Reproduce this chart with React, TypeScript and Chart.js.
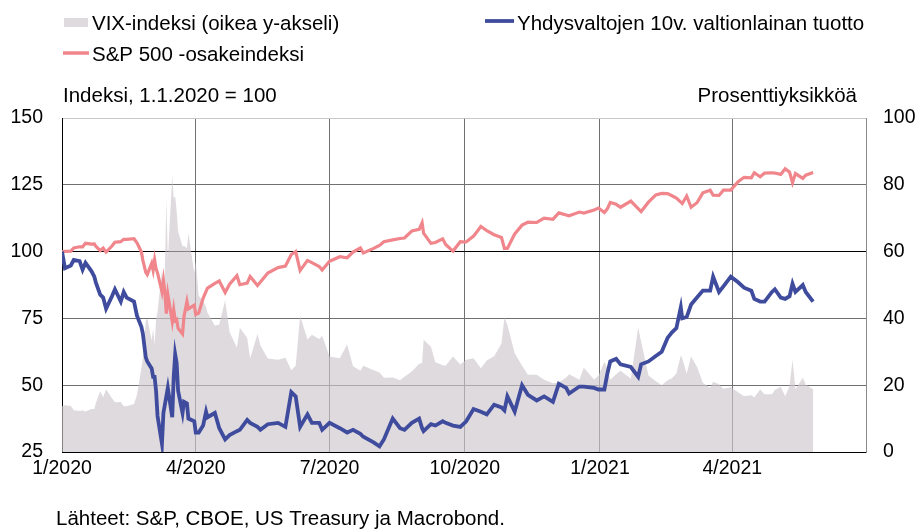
import React, { useEffect, useRef } from "react";
import { Chart, registerables } from "chart.js";

Chart.register(...registerables);

// ---- data (index 1.1.2020 = 100 for S&P and 10y yield; VIX in points, right axis)
const dates = [
  "2020-01-01","2020-01-03","2020-01-07","2020-01-09","2020-01-13","2020-01-15","2020-01-17","2020-01-21","2020-01-23","2020-01-24",
  "2020-01-27","2020-01-29","2020-01-31","2020-02-04","2020-02-06","2020-02-10","2020-02-12","2020-02-14","2020-02-19","2020-02-21",
  "2020-02-24","2020-02-25","2020-02-27","2020-02-28","2020-03-02","2020-03-03","2020-03-04","2020-03-05","2020-03-06","2020-03-09",
  "2020-03-10","2020-03-11","2020-03-12","2020-03-13","2020-03-16","2020-03-17","2020-03-18","2020-03-19","2020-03-20","2020-03-23",
  "2020-03-24","2020-03-26","2020-03-27","2020-03-31","2020-04-01","2020-04-03","2020-04-06","2020-04-08","2020-04-09","2020-04-14",
  "2020-04-17","2020-04-21","2020-04-24","2020-04-29","2020-05-01","2020-05-06","2020-05-08","2020-05-13","2020-05-15","2020-05-20",
  "2020-05-27","2020-06-01","2020-06-05","2020-06-08","2020-06-11","2020-06-16","2020-06-19","2020-06-24","2020-06-26","2020-07-01",
  "2020-07-08","2020-07-13","2020-07-17","2020-07-22","2020-07-24","2020-07-31","2020-08-04","2020-08-07","2020-08-13","2020-08-18",
  "2020-08-21","2020-08-26","2020-08-31","2020-09-02","2020-09-03","2020-09-08","2020-09-11","2020-09-16","2020-09-18","2020-09-23",
  "2020-09-28","2020-10-02","2020-10-07","2020-10-12","2020-10-16","2020-10-21","2020-10-26","2020-10-28","2020-10-30","2020-11-04",
  "2020-11-09","2020-11-13","2020-11-19","2020-11-24","2020-11-30","2020-12-04","2020-12-09","2020-12-11","2020-12-18","2020-12-21",
  "2020-12-28","2020-12-31","2021-01-04","2021-01-06","2021-01-08","2021-01-12","2021-01-15","2021-01-22","2021-01-27","2021-01-29",
  "2021-02-03","2021-02-08","2021-02-12","2021-02-16","2021-02-19","2021-02-22","2021-02-25","2021-02-26","2021-03-01","2021-03-04",
  "2021-03-08","2021-03-12","2021-03-17","2021-03-19","2021-03-23","2021-03-26","2021-03-31","2021-04-05","2021-04-09","2021-04-14",
  "2021-04-16","2021-04-20","2021-04-23","2021-04-28","2021-04-30","2021-05-04","2021-05-07","2021-05-10","2021-05-12","2021-05-14",
  "2021-05-19","2021-05-21","2021-05-26",
];

const sp500 = [
  100.0,100.1,100.2,101.4,101.8,101.8,103.1,102.8,102.9,102.0,
  100.4,101.3,99.8,102.1,103.5,103.7,104.6,104.6,104.8,103.3,
  99.9,96.8,92.2,91.4,95.6,93.0,96.9,93.6,92.0,85.0,
  89.2,84.8,76.8,83.9,73.9,78.3,74.2,74.6,71.3,69.2,
  75.7,81.4,78.6,80.0,76.5,77.0,82.5,85.1,86.3,88.1,
  89.0,84.7,87.8,91.0,87.6,88.2,90.7,87.3,88.6,92.0,
  94.0,94.6,98.9,100.0,92.9,96.7,95.9,94.4,93.1,96.4,
  98.1,97.7,99.8,101.4,99.5,101.2,102.3,103.7,104.4,104.9,
  105.1,107.7,108.3,110.8,106.9,103.1,103.4,104.8,102.7,100.2,
  103.7,103.6,105.8,109.4,107.8,106.3,105.3,101.2,101.2,106.6,
  109.9,111.0,110.9,112.5,112.1,114.5,113.7,113.4,114.8,114.4,
  115.6,116.3,114.6,116.0,118.4,117.7,116.6,118.9,116.1,115.0,
  118.5,121.2,121.8,121.7,120.9,120.0,118.5,118.0,120.8,116.6,
  118.3,122.0,123.0,121.1,121.0,123.0,123.0,126.2,127.8,127.6,
  129.5,128.0,129.4,129.5,129.4,128.9,131.0,129.7,125.8,129.2,
  127.4,128.6,129.6,
];

const us10y = [
  100.0,93.8,94.8,96.9,96.4,93.2,95.8,92.7,90.6,88.5,
  83.9,82.8,78.6,83.3,85.9,81.3,84.9,82.8,81.3,76.0,
  71.9,69.3,60.4,58.9,56.3,53.1,53.1,47.9,38.5,28.1,
  39.6,42.7,45.8,49.0,38.0,53.1,61.5,58.3,47.9,39.6,
  43.8,43.2,37.5,36.5,32.3,32.3,34.9,40.1,38.0,39.6,
  33.9,29.7,31.3,32.8,33.3,37.0,35.9,34.4,33.3,35.4,
  35.9,34.4,47.4,45.8,34.4,39.1,35.9,35.9,33.3,35.9,
  33.9,32.3,33.3,31.8,30.7,28.6,27.1,29.7,37.5,33.9,
  33.3,35.9,37.5,33.9,32.8,35.4,34.9,36.5,35.9,34.9,
  34.4,36.5,41.1,40.1,39.1,42.7,41.7,40.6,45.8,40.1,
  50.0,46.4,44.3,45.8,43.8,50.5,49.0,46.9,49.5,49.5,
  49.0,48.4,48.4,54.2,58.9,59.9,57.8,56.8,53.1,57.8,
  58.9,60.9,62.5,67.7,69.8,71.4,79.2,75.0,75.5,80.2,
  82.8,85.4,85.4,90.6,84.9,87.0,90.6,88.5,86.5,85.4,
  82.3,81.3,81.3,84.9,85.9,82.8,82.3,83.3,88.0,84.9,
  87.5,84.9,81.3,
];

const vix = [
  13.8,14.0,13.8,12.5,12.3,12.4,12.1,12.9,12.9,14.6,
  18.2,16.4,18.8,16.1,14.9,15.0,13.7,13.7,14.4,17.1,
  25.0,27.9,39.2,40.1,33.4,36.8,32.0,39.6,41.9,54.5,
  47.3,53.9,75.5,57.8,82.7,75.9,76.5,72.0,66.0,61.6,
  61.7,61.0,65.5,53.5,57.1,46.8,45.2,43.4,41.7,37.8,
  38.2,45.4,35.9,31.2,37.2,34.1,28.0,35.3,31.9,28.0,
  27.6,28.2,24.5,25.8,40.8,33.7,35.1,33.8,34.7,28.6,
  28.1,32.2,25.7,24.3,25.8,24.5,23.8,22.2,22.3,21.5,
  22.5,24.1,26.4,26.6,33.6,31.5,26.9,26.0,25.8,28.6,
  26.2,27.6,28.1,25.1,27.4,28.7,32.5,40.3,38.0,29.6,
  25.8,23.1,23.1,21.6,20.6,20.8,22.3,23.3,21.6,25.2,
  21.7,22.8,27.0,25.1,21.6,23.3,24.3,21.9,37.2,33.1,
  22.9,21.2,20.0,21.5,22.1,23.5,28.9,28.0,23.4,28.6,
  25.5,20.7,19.2,21.0,20.3,18.9,19.4,17.9,16.7,17.0,
  16.3,18.7,17.3,17.3,18.6,19.5,16.7,19.7,27.6,18.8,
  22.2,20.2,18.8,
];

const xTickDates = ["2020-01-01", "2020-04-01", "2020-07-01", "2020-10-01", "2021-01-01", "2021-04-01"];
const xTickLabels = ["1/2020", "4/2020", "7/2020", "10/2020", "1/2021", "4/2021"];
const xStartDate = "2020-01-01";
const xEndDate = "2021-07-01";

const labelVix = "VIX-indeksi (oikea y-akseli)";
const labelSp = "S&P 500 -osakeindeksi";
const labelYield = "Yhdysvaltojen 10v. valtionlainan tuotto";
const leftTitle = "Indeksi, 1.1.2020 = 100";
const rightTitle = "Prosenttiyksikköä";
const sourceText = "Lähteet: S&P, CBOE, US Treasury ja Macrobond.";

const FONT = "'Liberation Sans', Arial, Helvetica, sans-serif";
const PINK = "#F0868B";
const BLUE = "#3F4C9E";
const VIX_FILL = "rgba(204,198,205,0.65)";
const VIX_SWATCH = "#DEDADE";

const dayOf = (s: string) =>
  (Date.parse(s + "T00:00:00Z") - Date.parse(xStartDate + "T00:00:00Z")) / 86400000;

export default function App() {
  const ref = useRef<HTMLCanvasElement | null>(null);

  useEffect(() => {
    document.body.style.margin = "0";
    document.body.style.overflow = "hidden";
    const canvas = ref.current;
    if (!canvas) return;

    const days = dates.map(dayOf);
    const tickDays = xTickDates.map(dayOf);

    const textPlugin = {
      id: "texts",
      afterDraw(chart: any) {
        const ctx = chart.ctx;
        ctx.save();
        ctx.fillStyle = "#000";
        ctx.font = `20.5px ${FONT}`;
        ctx.textBaseline = "alphabetic";
        ctx.textAlign = "left";
        // legend row 1
        ctx.fillStyle = VIX_SWATCH;
        ctx.fillRect(64, 18, 24, 9);
        ctx.fillStyle = "#000";
        ctx.fillText(labelVix, 92, 30);
        ctx.strokeStyle = BLUE;
        ctx.lineWidth = 3.8;
        ctx.beginPath();
        ctx.moveTo(485, 21);
        ctx.lineTo(514, 21);
        ctx.stroke();
        ctx.fillText(labelYield, 517, 30);
        // legend row 2
        ctx.strokeStyle = PINK;
        ctx.lineWidth = 3.5;
        ctx.beginPath();
        ctx.moveTo(63, 53);
        ctx.lineTo(89, 53);
        ctx.stroke();
        ctx.fillText(labelSp, 92, 61);
        // axis titles
        ctx.fillText(leftTitle, 63, 102);
        ctx.textAlign = "right";
        ctx.fillText(rightTitle, 857, 102);
        // source
        ctx.textAlign = "left";
        ctx.fillText(sourceText, 56, 525);
        ctx.restore();
      },
    };

    const chart = new Chart(canvas, {
      type: "line",
      data: {
        datasets: [
          {
            label: labelYield,
            data: days.map((d, i) => ({ x: d, y: us10y[i] })),
            borderColor: BLUE,
            borderWidth: 3.8,
            pointRadius: 0,
            yAxisID: "y",
            order: 1,
            tension: 0,
          },
          {
            label: labelSp,
            data: days.map((d, i) => ({ x: d, y: sp500[i] })),
            borderColor: PINK,
            borderWidth: 3.2,
            pointRadius: 0,
            yAxisID: "y",
            order: 2,
            tension: 0,
          },
          {
            label: labelVix,
            data: days.map((d, i) => ({ x: d, y: vix[i] })),
            borderWidth: 0,
            borderColor: "rgba(0,0,0,0)",
            backgroundColor: VIX_FILL,
            fill: "origin",
            pointRadius: 0,
            yAxisID: "y1",
            order: 3,
            tension: 0,
          },
        ],
      },
      options: {
        responsive: false,
        animation: false,
        layout: { padding: { top: 118, left: 0, right: 0, bottom: 0 } },
        plugins: { legend: { display: false }, tooltip: { enabled: false }, title: { display: false } },
        scales: {
          x: {
            type: "linear",
            min: 0,
            max: dayOf(xEndDate),
            afterBuildTicks: (scale: any) => {
              scale.ticks = tickDays.map((v) => ({ value: v }));
            },
            afterFit: (scale: any) => {
              scale.height = 79;
            },
            ticks: {
              autoSkip: false,
              maxRotation: 0,
              padding: 5,
              color: "#000",
              font: { family: FONT, size: 19.5 },
              callback: (v: any) => {
                const idx = tickDays.indexOf(Number(v));
                return idx >= 0 ? xTickLabels[idx] : "";
              },
            },
            grid: { color: "#707070", lineWidth: 1, drawTicks: false },
            border: { color: "#000", width: 1 },
          },
          y: {
            position: "left",
            min: 25,
            max: 150,
            afterFit: (scale: any) => {
              scale.width = 62;
            },
            ticks: {
              stepSize: 25,
              padding: 19,
              color: "#000",
              font: { family: FONT, size: 19.5 },
            },
            grid: {
              drawTicks: false,
              lineWidth: 1,
              color: (c: any) =>
                c.tick && c.tick.value === 100 ? "#000" : c.tick && c.tick.value === 150 ? "#c8c8c8" : "#707070",
            },
            border: { color: "#000", width: 1 },
          },
          y1: {
            position: "right",
            min: 0,
            max: 100,
            afterFit: (scale: any) => {
              scale.width = 55;
            },
            ticks: {
              stepSize: 20,
              padding: 17,
              color: "#000",
              font: { family: FONT, size: 19.5 },
            },
            grid: { display: false, drawTicks: false },
            border: { color: "#8a8a8a", width: 1 },
          },
        },
      } as any,
      plugins: [textPlugin],
    });

    return () => chart.destroy();
  }, []);

  return (
    <div style={{ width: 921, height: 531, position: "relative", background: "#fff" }}>
      <canvas ref={ref} width={921} height={531} style={{ display: "block" }} />
    </div>
  );
}
